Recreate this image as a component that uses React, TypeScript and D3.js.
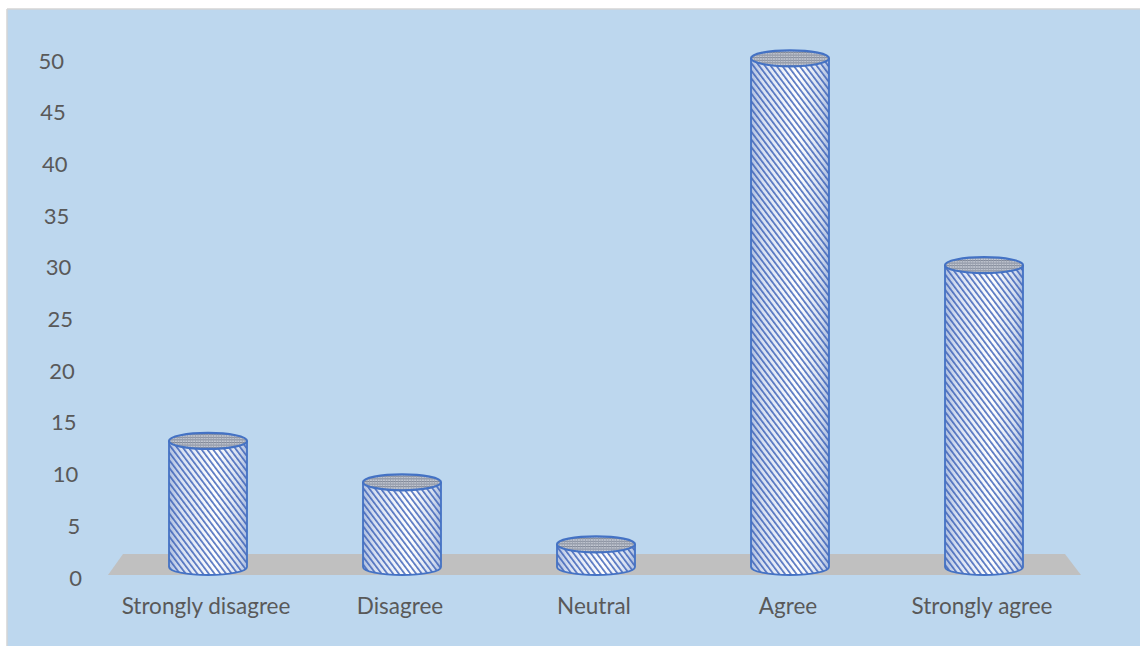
import React from "react";
import * as d3 from "d3";

// Response categories and their counts
const categories = ["Strongly disagree", "Disagree", "Neutral", "Agree", "Strongly agree"];
const values = [12, 8, 2, 49, 29];
const yTicks = [0, 5, 10, 15, 20, 25, 30, 35, 40, 45, 50];

const W = 1140;
const H = 646;
const FONT = "Lato, 'Open Sans', sans-serif";
const TEXT = "#595959";
const OUTLINE = "#4472c4";

export default function App() {
  // value axis (labels sit on the slanted front edge of the wall)
  const y = d3.scaleLinear().domain([0, 50]).range([577, 60]);
  const x = d3.scaleBand<string>().domain(categories).range([111, 1081]).padding(0);

  const rx = 39;
  const ry = 8;
  const depthLift = 10; // cylinders stand in the middle of the floor depth
  const baseY = y(0) - depthLift;

  // floor parallelogram
  const floorFront = y(0) - 2;
  const floorBack = floorFront - 21;
  const floor = `M108,${floorFront} L123,${floorBack} L1065,${floorBack} L1081,${floorFront} Z`;

  const labelX = (v: number) => 82 - v * 0.36;

  return (
    <div style={{ position: "absolute", left: 0, top: 0 }}>
      <svg width={W} height={H} style={{ display: "block" }}>
        <defs>
          <linearGradient id="sideShade" x1="0" x2="1" y1="0" y2="0">
            <stop offset="0" stopColor="#aebfe0" />
            <stop offset="0.15" stopColor="#d6dff1" />
            <stop offset="0.6" stopColor="#ffffff" />
            <stop offset="0.9" stopColor="#d3ddef" />
            <stop offset="1" stopColor="#a9bbde" />
          </linearGradient>
          <pattern
            id="stripes"
            width="4.6"
            height="4.6"
            patternUnits="userSpaceOnUse"
            patternTransform="rotate(-37)"
          >
            <rect x="0" y="0" width="1.7" height="4.6" fill="#3a5fb6" opacity="0.85" />
          </pattern>
          <pattern id="capGrid" width="2.6" height="2.6" patternUnits="userSpaceOnUse">
            <rect width="2.6" height="2.6" fill="#c4c9d3" />
            <rect width="2.6" height="1" fill="#7d8494" />
            <rect width="0.8" height="2.6" fill="#99a0ae" />
          </pattern>
        </defs>

        {/* chart area background */}
        <rect x={7} y={9} width={W - 7} height={H - 9} fill="#bdd7ee" />
        <line x1={7} y1={9} x2={W} y2={9} stroke="#d4d4d4" strokeWidth={1.5} />
        <line x1={7} y1={9} x2={7} y2={H} stroke="#d4d4d4" strokeWidth={1.5} />

        {/* value axis labels */}
        {yTicks.map((t) => (
          <text
            key={t}
            x={labelX(t)}
            y={y(t)}
            textAnchor="end"
            dominantBaseline="central"
            fontFamily={FONT}
            fontSize={22}
            fill={TEXT}
          >
            {t}
          </text>
        ))}

        {/* floor */}
        <path d={floor} fill="#c0c0c0" />

        {/* cylinders */}
        {categories.map((c, i) => {
          const cx = (x(c) as number) + x.bandwidth() / 2;
          const topY = y(values[i]) - depthLift - 2;
          const side = `M${cx - rx},${topY} L${cx - rx},${baseY} A${rx},${ry} 0 0 0 ${cx + rx},${baseY} L${cx + rx},${topY} Z`;
          const outline = `M${cx - rx},${topY} L${cx - rx},${baseY} A${rx},${ry} 0 0 0 ${cx + rx},${baseY} L${cx + rx},${topY}`;
          return (
            <g key={c}>
              <path d={side} fill="url(#sideShade)" />
              <path d={side} fill="url(#stripes)" />
              <path d={outline} fill="none" stroke={OUTLINE} strokeWidth={1.8} />
              <ellipse
                cx={cx}
                cy={topY}
                rx={rx}
                ry={ry}
                fill="url(#capGrid)"
                stroke={OUTLINE}
                strokeWidth={2.2}
              />
            </g>
          );
        })}

        {/* category labels */}
        {categories.map((c) => (
          <text
            key={c}
            x={(x(c) as number) + x.bandwidth() / 2 - 2}
            y={614}
            textAnchor="middle"
            fontFamily={FONT}
            fontSize={22.5}
            fill={TEXT}
          >
            {c}
          </text>
        ))}
      </svg>
    </div>
  );
}
